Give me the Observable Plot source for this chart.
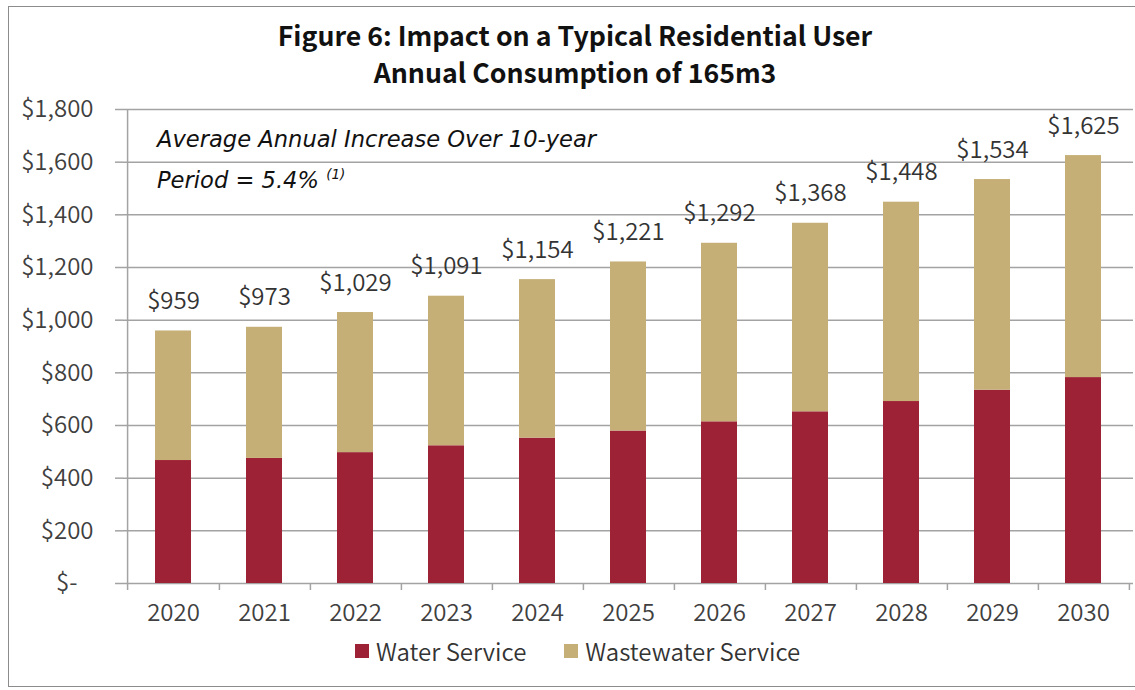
<!DOCTYPE html>
<html><head><meta charset="utf-8">
<script src="https://cdn.jsdelivr.net/npm/d3@7"></script>
<script src="https://cdn.jsdelivr.net/npm/@observablehq/plot@0.6"></script>
<style>
body{margin:0;background:#fff;font-family:"Noto Sans CJK JP","Noto Sans",sans-serif;}
#wrap{position:relative;width:1135px;height:690px;overflow:hidden;background:#fff;}
#border{position:absolute;left:8px;top:6px;width:1150px;height:681px;border:1.5px solid #8c8c8c;box-sizing:border-box;}
.title{position:absolute;left:0;width:1150px;text-align:center;font-weight:bold;font-size:26.7px;line-height:30px;color:#111;white-space:nowrap;}
#chart{position:absolute;left:0;top:100px;}
.note{position:absolute;left:157px;font-family:"DejaVu Sans",sans-serif;font-style:italic;font-size:22.6px;line-height:28px;color:#111;white-space:nowrap;}
.note sup{font-size:13.5px;vertical-align:9px;}
#legend{position:absolute;top:636px;left:355px;display:flex;align-items:center;font-size:24px;font-weight:350;line-height:30px;color:#333;white-space:nowrap;}
.sw{display:inline-block;width:14px;height:14px;margin-right:7px;}
.item{display:flex;align-items:center;margin-right:38px;}
</style></head>
<body>
<div id="wrap">
  <div id="border"></div>
  <div class="title" id="t1" style="top:20px"></div>
  <div class="title" id="t2" style="top:56.5px"></div>
  <div id="chart"></div>
  <div class="note" style="top:125px" id="n1"></div>
  <div class="note" style="top:160px" id="n2"></div>
  <div id="legend"></div>
</div>
<script>
const titleLines = ["Figure 6: Impact on a Typical Residential User", "Annual Consumption of 165m3"];
const noteLines = ["Average Annual Increase Over 10-year", "Period = 5.4%"];
const noteSup = "(1)";
const years = ["2020","2021","2022","2023","2024","2025","2026","2027","2028","2029","2030"];
const seriesNames = ["Water Service", "Wastewater Service"];
const seriesColors = ["#9e2236", "#c5af77"];
const water = [467, 475, 497, 523, 552, 579, 614, 652, 691, 734, 782];
const wastewater = [492, 498, 532, 568, 602, 642, 678, 716, 757, 800, 843];
const totals = [959, 973, 1029, 1091, 1154, 1221, 1292, 1368, 1448, 1534, 1625];
const yTicks = [0, 200, 400, 600, 800, 1000, 1200, 1400, 1600, 1800];

document.getElementById("t1").textContent = titleLines[0];
document.getElementById("t2").textContent = titleLines[1];
document.getElementById("n1").textContent = noteLines[0];
const n2 = document.getElementById("n2");
n2.textContent = noteLines[1] + " ";
const sup = document.createElement("sup"); sup.textContent = noteSup; n2.appendChild(sup);

const rows = [];
years.forEach((y, i) => {
  rows.push({year: y, series: seriesNames[0], value: water[i]});
  rows.push({year: y, series: seriesNames[1], value: wastewater[i]});
});

const W = 1135, H = 530, mL = 123, mR = 2, mT = 9, mB = 47;
const step = (W - mL - mR) / years.length;
const plotH = H - mT - mB;
const fmt = d3.format(",");
const gray = "#a3a3a3";

const chart = Plot.plot({
  width: W, height: H, marginTop: mT, marginBottom: mB, marginLeft: mL, marginRight: mR,
  style: {fontFamily: '"Noto Sans CJK JP","Noto Sans",sans-serif', fontSize: "24px", fontWeight: 350, color: "#404040", background: "transparent", overflow: "visible"},
  x: {type: "band", domain: years, paddingInner: 0.6, paddingOuter: 0.3, label: null},
  y: {domain: [0, 1800], label: null},
  color: {domain: seriesNames, range: seriesColors},
  marks: [
    Plot.gridY(yTicks, {stroke: gray, strokeOpacity: 1, strokeWidth: 1.5}),
    Plot.axisY(yTicks, {tickSize: 8, tickPadding: 22, stroke: gray, strokeWidth: 1.5, fill: "#404040", fontSize: 24,
      tickFormat: d => d === 0 ? "$-\u00a0\u00a0\u00a0" : "$" + fmt(d), label: null}),
    Plot.axisX({tickSize: 0, tickPadding: 20, fill: "#404040", fontSize: 24, label: null}),
    Plot.barY(rows, {x: "year", y: "value", fill: "series"}),
    Plot.ruleX([years[0]], {x: d => d, dx: -step / 2, insetBottom: -7, stroke: gray, strokeWidth: 1.5}),
    Plot.ruleX(years, {x: d => d, dx: step / 2, insetTop: plotH, insetBottom: -7, stroke: gray, strokeWidth: 1.5}),
    Plot.text(years, {x: d => d, y: (d, i) => totals[i], text: (d, i) => "$" + fmt(totals[i]),
      dy: -22, lineAnchor: "bottom", fill: "#333", fontSize: 24})
  ]
});
document.getElementById("chart").appendChild(chart);

const legend = document.getElementById("legend");
seriesNames.forEach((s, i) => {
  const it = document.createElement("div"); it.className = "item";
  const sw = document.createElement("span"); sw.className = "sw"; sw.style.background = seriesColors[i];
  const tx = document.createElement("span"); tx.textContent = s;
  it.appendChild(sw); it.appendChild(tx); legend.appendChild(it);
});
</script>
</body></html>
